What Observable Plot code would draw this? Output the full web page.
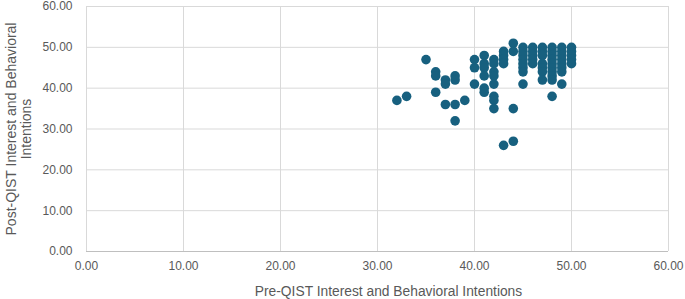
<!DOCTYPE html>
<html>
<head>
<meta charset="utf-8">
<script src="https://cdn.jsdelivr.net/npm/d3@7"></script>
<script src="https://cdn.jsdelivr.net/npm/@observablehq/plot@0.6"></script>
<style>
  html, body { margin: 0; padding: 0; background: #ffffff; }
  #chart { width: 685px; height: 299px; }
</style>
</head>
<body>
<div id="chart"></div>
<script>
const xTitle = "Pre-QIST Interest and Behavioral Intentions";
const yTitle = "Post-QIST Interest and Behavioral\nIntentions";
const tickValues = [0, 10, 20, 30, 40, 50, 60];

const preScores = [
  32, 33, 35, 36, 36, 36, 37, 37, 37, 38, 38, 38, 38, 39,
  40, 40, 40,
  41, 41, 41, 41, 41, 41,
  42, 42, 42, 42, 42, 42, 42, 42,
  43, 43, 43, 43, 43,
  44, 44, 44, 44,
  45, 45, 45, 45, 45, 45, 45, 45,
  46, 46, 46, 46, 46,
  47, 47, 47, 47, 47, 47, 47,
  48, 48, 48, 48, 48, 48, 48, 48, 48, 48,
  49, 49, 49, 49, 49, 49, 49, 49,
  50, 50, 50, 50, 50
];
const postScores = [
  37, 38, 47, 44, 43, 39, 42, 41, 36, 43, 42, 36, 32, 37,
  47, 45, 41,
  48, 46, 45, 43, 40, 39,
  47, 46, 44, 43, 41, 38, 37, 35,
  49, 48, 47, 46, 26,
  51, 49, 35, 27,
  50, 49, 48, 47, 46, 45, 44, 41,
  50, 49, 48, 47, 46,
  50, 49, 48, 46, 45, 44, 42,
  50, 49, 48, 47, 46, 45, 44, 43, 42, 38,
  50, 49, 48, 47, 46, 45, 44, 41,
  50, 49, 48, 47, 46
];

const points = preScores.map((x, i) => ({x, y: postScores[i]}));
const fmt = d3.format(".2f");
const textColor = "#595959";
const fontFamily = "'Liberation Sans', Arial, sans-serif";

const chart = Plot.plot({
  width: 685,
  height: 299,
  marginLeft: 86,
  marginRight: 17,
  marginTop: 6,
  marginBottom: 48,
  style: {fontFamily, fontSize: "12px", color: textColor, background: "#ffffff"},
  x: {domain: [0, 60], ticks: tickValues, label: null},
  y: {domain: [0, 60], ticks: tickValues, label: null},
  marks: [
    Plot.gridX(tickValues, {stroke: "#d9d9d9", strokeOpacity: 1, strokeWidth: 1}),
    Plot.gridY(tickValues, {stroke: "#d9d9d9", strokeOpacity: 1, strokeWidth: 1}),
    Plot.ruleY([0], {stroke: "#bfbfbf", strokeWidth: 1}),
    Plot.axisX(tickValues, {tickSize: 0, tickPadding: 10, tickFormat: fmt, fill: textColor, fontSize: 12, label: null}),
    Plot.axisY(tickValues, {tickSize: 0, tickPadding: 14, tickFormat: fmt, fill: textColor, fontSize: 12, label: null}),
    Plot.dot(points, {x: "x", y: "y", r: 4.8, fill: "#17607f", stroke: "none"}),
    Plot.text([xTitle], {frameAnchor: "bottom", dy: 40, dx: 11, text: d => d, fill: textColor, fontSize: 13.8, lineAnchor: "middle"}),
    Plot.text([yTitle], {frameAnchor: "left", dx: -68, text: d => d, rotate: -90, textAnchor: "middle", fill: textColor, fontSize: 14, lineAnchor: "middle", lineHeight: 1.05})
  ]
});
document.getElementById("chart").appendChild(chart);
</script>
</body>
</html>
